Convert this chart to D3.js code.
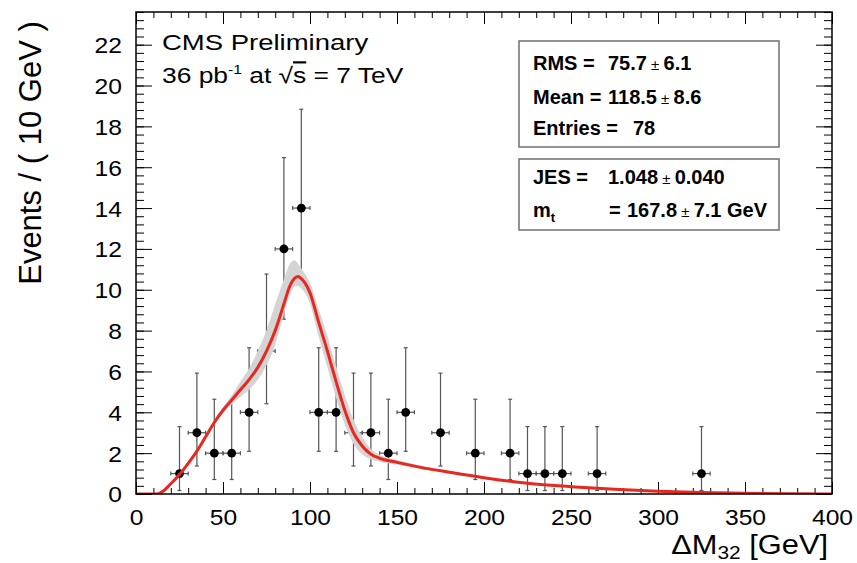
<!DOCTYPE html>
<html><head><meta charset="utf-8">
<script src="https://cdn.jsdelivr.net/npm/d3@7"></script>
<style>
body{margin:0;background:#fff;}
text{font-family:"Liberation Sans",Arial,Helvetica,sans-serif;fill:#000;}
</style></head><body>
<svg id="chart" width="857" height="563"></svg>
<script>
// Binned data: bin centres (GeV), event counts and their Poisson 68% bounds
const binCenters = [25,35,45,55,65,75,85,95,105,115,125,135,145,155,175,195,215,225,235,245,265,325];
const binCounts  = [1,3,2,2,4,7,12,14,4,4,3,3,2,4,3,2,2,1,1,1,1,1];
const errLow     = [0.17,1.37,0.71,0.71,2.09,4.42,8.56,10.26,2.09,2.09,1.37,1.37,0.71,2.09,1.37,0.71,0.71,0.17,0.17,0.17,0.17,0.17];
const errHigh    = [3.30,5.92,4.64,4.64,7.16,10.77,16.47,18.84,7.16,7.16,5.92,5.92,4.64,7.16,5.92,4.64,4.64,3.30,3.30,3.30,3.30,3.30];
const binHalfWidth = 5;

// Fitted template curve and its uncertainty band
const fitX   = [0,12,14,20,25,30,35,40,45,50,55,60,65,70,75,80,85,88,91,93,95,97,100,105,110,115,120,125,130,135,140,150,165,175,200,225,250,275,300,325,350,375,400];
const fitY   = [0,0,0.05,0.5,0.95,1.5,2.1,2.8,3.5,4.1,4.6,5.1,5.6,6.2,7.0,8.0,9.3,10.1,10.55,10.65,10.55,10.35,9.85,8.4,7.0,5.5,4.1,3.0,2.35,1.95,1.75,1.55,1.28,1.14,0.8,0.53,0.36,0.23,0.13,0.07,0.035,0.015,0.005];
const bandHi = [0,0,0.07,0.55,1.0,1.56,2.18,2.9,3.62,4.25,4.82,5.5,6.15,7.0,8.0,9.3,10.5,11.2,11.45,11.3,11.05,10.8,10.35,9.05,7.75,6.25,4.85,3.65,2.8,2.2,1.92,1.66,1.36,1.2,0.85,0.57,0.39,0.25,0.15,0.08,0.04,0.02,0.01];
const bandLo = [0,0,0.03,0.45,0.9,1.44,2.02,2.7,3.38,3.95,4.38,4.75,5.1,5.6,6.3,7.3,8.8,9.65,10.15,10.2,10.05,9.85,9.3,7.7,6.2,4.7,3.4,2.45,1.95,1.7,1.58,1.44,1.2,1.08,0.75,0.49,0.33,0.21,0.11,0.06,0.03,0.01,0];

// Axis ticks
const xMajorTicks = [0,50,100,150,200,250,300,350,400];
const yMajorTicks = [0,2,4,6,8,10,12,14,16,18,20,22];
const xDomain = [0, 400];
const yDomain = [0, 23.6];

// Stats box text
const statsRows = [
  {label:"RMS =", value:"75.7", err:"6.1"},
  {label:"Mean =", value:"118.5", err:"8.6"},
  {label:"Entries =", value:"78", err:null}
];
const fitRows = [
  {label:"JES =", value:"1.048", err:"0.040", unit:""},
  {label:"m", sub:"t", eq:"=", value:"167.8", err:"7.1", unit:" GeV"}
];

const svg = d3.select("#chart");
const frame = {left:136, right:832, top:12, bottom:494};

const x = d3.scaleLinear().domain(xDomain).range([frame.left, frame.right]);
const y = d3.scaleLinear().domain(yDomain).range([frame.bottom, frame.top]);

svg.append("rect").attr("width",857).attr("height",563).attr("fill","#fff");

svg.append("defs").append("clipPath").attr("id","plotclip")
  .append("rect").attr("x",frame.left).attr("y",frame.top)
  .attr("width",frame.right-frame.left).attr("height",frame.bottom-frame.top);

// Inward ticks on all four sides
const xMinor = d3.range(0, 401, 10);
const yMinor = d3.range(0, 23.61, 0.4);
function tickAxis(axisFn, scale, values, size, tx, ty) {
  const g = svg.append("g").attr("transform",`translate(${tx},${ty})`)
    .call(axisFn(scale).tickValues(values).tickSize(size).tickFormat(""));
  g.select(".domain").remove();
  g.selectAll(".tick line").attr("stroke","#000").attr("stroke-width",1);
  return g;
}
tickAxis(d3.axisBottom, x, xMinor, -6, 0, frame.bottom);
tickAxis(d3.axisBottom, x, xMajorTicks, -12, 0, frame.bottom);
tickAxis(d3.axisTop, x, xMinor, -6, 0, frame.top);
tickAxis(d3.axisTop, x, xMajorTicks, -12, 0, frame.top);
tickAxis(d3.axisLeft, y, yMinor, -8, frame.left, 0);
tickAxis(d3.axisLeft, y, yMajorTicks, -16, frame.left, 0);
tickAxis(d3.axisRight, y, yMinor, -8, frame.right, 0);
tickAxis(d3.axisRight, y, yMajorTicks, -16, frame.right, 0);

// Tick labels
const xl = svg.append("g").attr("transform",`translate(0,${frame.bottom})`)
  .call(d3.axisBottom(x).tickValues(xMajorTicks).tickSize(0).tickPadding(0).tickFormat(d3.format("d")));
xl.select(".domain").remove();
xl.selectAll("text").attr("font-size",22).attr("dy",null).attr("y",0)
  .attr("transform","translate(0,31) scale(1.12,1)")
  .style("font-family",'"Liberation Sans",Arial,sans-serif');

const yl = svg.append("g").attr("transform",`translate(${frame.left},0)`)
  .call(d3.axisLeft(y).tickValues(yMajorTicks).tickSize(0).tickPadding(0).tickFormat(d3.format("d")));
yl.select(".domain").remove();
yl.selectAll("text").attr("font-size",22).attr("x",0).attr("dy","0.36em")
  .attr("transform","translate(-14,0) scale(1.12,1)")
  .style("font-family",'"Liberation Sans",Arial,sans-serif');

const plot = svg.append("g").attr("clip-path","url(#plotclip)");

// Data points with error bars
const pts = binCenters.map((c,i)=>({c, n:binCounts[i], lo:errLow[i], hi:errHigh[i]}));
const eb = plot.append("g").attr("stroke","#555").attr("stroke-width",1.2);
pts.forEach(p=>{
  eb.append("line").attr("x1",x(p.c)).attr("x2",x(p.c)).attr("y1",y(p.lo)).attr("y2",y(p.hi));
  eb.append("line").attr("x1",x(p.c)-2).attr("x2",x(p.c)+2).attr("y1",y(p.hi)).attr("y2",y(p.hi));
  eb.append("line").attr("x1",x(p.c)-2).attr("x2",x(p.c)+2).attr("y1",y(p.lo)).attr("y2",y(p.lo));
  eb.append("line").attr("x1",x(p.c-binHalfWidth)).attr("x2",x(p.c+binHalfWidth)).attr("y1",y(p.n)).attr("y2",y(p.n));
  eb.append("line").attr("x1",x(p.c-binHalfWidth)).attr("x2",x(p.c-binHalfWidth)).attr("y1",y(p.n)-2).attr("y2",y(p.n)+2);
  eb.append("line").attr("x1",x(p.c+binHalfWidth)).attr("x2",x(p.c+binHalfWidth)).attr("y1",y(p.n)-2).attr("y2",y(p.n)+2);
});
plot.append("g").selectAll("circle").data(pts).join("circle")
  .attr("cx",d=>x(d.c)).attr("cy",d=>y(d.n)).attr("r",4.4).attr("fill","#000");

// Uncertainty band of the fit
const fit = fitX.map((v,i)=>({x:v, y:fitY[i], lo:bandLo[i], hi:bandHi[i]}));
plot.append("path").datum(fit)
  .attr("d", d3.area().x(d=>x(d.x)).y0(d=>y(d.lo)).y1(d=>y(d.hi)).curve(d3.curveMonotoneX))
  .attr("fill","#d4d4d4");

// Fit curve
plot.append("path").datum(fit)
  .attr("d", d3.line().x(d=>x(d.x)).y(d=>y(d.y)).curve(d3.curveMonotoneX))
  .attr("fill","none").attr("stroke","#e8281e").attr("stroke-width",3);

// Frame
svg.append("rect").attr("x",frame.left).attr("y",frame.top)
  .attr("width",frame.right-frame.left).attr("height",frame.bottom-frame.top)
  .attr("fill","none").attr("stroke","#000").attr("stroke-width",1.5);

// Axis titles
svg.append("text").attr("transform","translate(41,153) rotate(-90)")
  .attr("text-anchor","middle").attr("font-size",31).text("Events / ( 10 GeV )");

const xt = svg.append("text").attr("text-anchor","end").attr("font-size",28)
  .attr("transform","translate(828,554) scale(1.1,1)");
xt.append("tspan").text("\u0394M");
xt.append("tspan").attr("font-size",19).attr("dy",5).text("32");
xt.append("tspan").attr("dy",-5).text(" [GeV]");

// Experiment label
svg.append("text").attr("font-size",22).attr("transform","translate(162,50) scale(1.25,1)").text("CMS Preliminary");
const lumi = svg.append("text").attr("font-size",22).attr("transform","translate(162,83) scale(1.2,1)");
lumi.append("tspan").text("36 pb");
lumi.append("tspan").attr("font-size",13).attr("dy",-9).text("-1");
lumi.append("tspan").attr("dy",9).text(" at \u221A");
lumi.append("tspan").attr("text-decoration","overline").text("s");
lumi.append("tspan").text(" = 7 TeV");

// Stats boxes
function box(y0, h) {
  svg.append("rect").attr("x",519).attr("y",y0).attr("width",260).attr("height",h)
    .attr("fill","#fff").attr("stroke","#777").attr("stroke-width",1.6);
}
box(41, 106);
box(159, 71);

const FS = 20;
const statBase = [70, 104, 135];
statsRows.forEach((r,i)=>{
  svg.append("text").attr("x",533).attr("y",statBase[i]).attr("font-size",FS).attr("font-weight","bold").text(r.label);
  const v = svg.append("text").attr("x", r.err ? 608 : 633).attr("y",statBase[i]).attr("font-size",FS).attr("font-weight","bold");
  v.append("tspan").text(r.value);
  if (r.err) {
    v.append("tspan").attr("font-size",15).attr("font-weight","normal").text(" \u00B1 ");
    v.append("tspan").text(r.err);
  }
});
const fitBase = [184, 217];
fitRows.forEach((r,i)=>{
  const t = svg.append("text").attr("x",533).attr("y",fitBase[i]).attr("font-size",FS).attr("font-weight","bold");
  t.append("tspan").text(r.label);
  if (r.sub) {
    t.append("tspan").attr("font-size",13).attr("dy",5).text(r.sub);
    svg.append("text").attr("x",609).attr("y",fitBase[i]).attr("font-size",FS).attr("font-weight","bold").text(r.eq);
  }
  const v = svg.append("text").attr("x", r.sub ? 627 : 608).attr("y",fitBase[i]).attr("font-size",FS).attr("font-weight","bold");
  v.append("tspan").text(r.value);
  v.append("tspan").attr("font-size",15).attr("font-weight","normal").text(" \u00B1 ");
  v.append("tspan").text(r.err + r.unit);
});
</script>
</body></html>
